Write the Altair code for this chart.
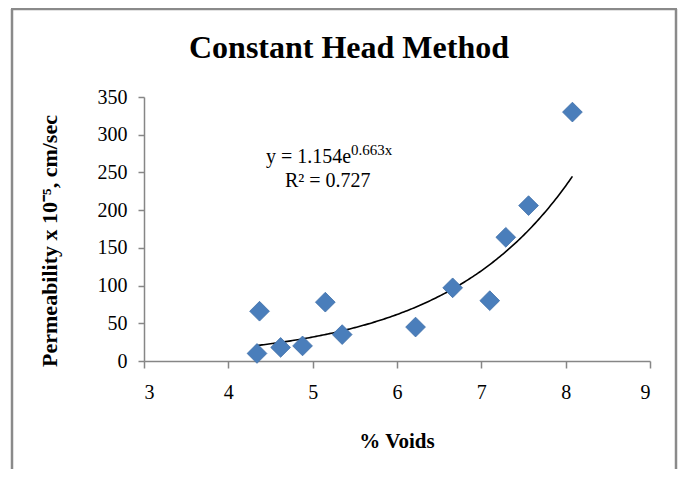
import altair as alt
import pandas as pd

# Data
voids = [4.34, 4.37, 4.62, 4.88, 5.15, 5.35, 6.22, 6.66, 7.10, 7.29, 7.56, 8.08]
permeability = [10, 66, 18, 20, 78, 35, 45, 97, 80, 164, 206, 330]

# Trendline equation printed on the chart: y = 1.154 e^(0.663 x)
fit_a = 1.154
fit_b = 0.663

x_ticks = [3, 4, 5, 6, 7, 8, 9]
y_ticks = [0, 50, 100, 150, 200, 250, 300, 350]

title_text = "Constant Head Method"
x_title = "% Voids"
y_title = "Permeability x 10\u207b\u2075, cm/sec"
eq_main = "y = 1.154e"
eq_sup = "0.663x"
r2_text = "R\u00b2 = 0.727"

FONT = "Liberation Serif"
W, H = 506, 264

df = pd.DataFrame({"voids": voids, "perm": permeability})
one = pd.DataFrame({"k": [0]})

x_scale = alt.Scale(domain=[3, 9], nice=False)
y_scale = alt.Scale(domain=[0, 350], nice=False)
x_axis = alt.Axis(values=x_ticks, title=None, tickSize=7, labelPadding=14, format="d", grid=False)
y_axis = alt.Axis(values=y_ticks, title=None, tickSize=6, labelPadding=11, format="d", grid=False)

points = alt.Chart(df).mark_point(
    shape="diamond", filled=True, size=390, color="#4a7ebb", opacity=1,
    stroke="#3f6fa8", strokeWidth=0.8
).encode(
    x=alt.X("voids:Q", scale=x_scale, axis=x_axis),
    y=alt.Y("perm:Q", scale=y_scale, axis=y_axis),
)

trend = alt.Chart(alt.sequence(min(voids), max(voids) + 0.001, 0.02, as_="voids")).transform_calculate(
    perm=f"{fit_a} * exp({fit_b} * datum.voids)"
).mark_line(color="black", strokeWidth=1.6).encode(
    x=alt.X("voids:Q", scale=x_scale, axis=x_axis),
    y=alt.Y("perm:Q", scale=y_scale, axis=y_axis),
)

def txt(s, x, y, size, bold=False, align="left", angle=0, baseline="alphabetic"):
    kw = dict(text=s, font=FONT, fontSize=size, align=align, baseline=baseline, color="black")
    if bold:
        kw["fontWeight"] = "bold"
    if angle:
        kw["angle"] = angle
    return alt.Chart(one).mark_text(**kw).encode(x=alt.value(x), y=alt.value(y))

BORDER = "#8a8a8a"
left_b = alt.Chart(one).mark_rule(color=BORDER, strokeWidth=2.5).encode(
    x=alt.value(-132), y=alt.value(-88), y2=alt.value(380))
right_b = alt.Chart(one).mark_rule(color=BORDER, strokeWidth=2.5).encode(
    x=alt.value(532), y=alt.value(-88), y2=alt.value(380))
top_b = alt.Chart(one).mark_rule(color=BORDER, strokeWidth=2.5).encode(
    x=alt.value(-133), x2=alt.value(533), y=alt.value(-88))

chart = alt.layer(
    left_b, right_b, top_b,
    trend, points,
    txt(title_text, 205, -39, 32, bold=True, align="center"),
    txt(x_title, 253, 351, 21, bold=True, align="center"),
    txt(y_title, -94, 144, 22, bold=True, align="center", angle=270, baseline="middle"),
    txt(eq_main, 122, 66, 20),
    txt(eq_sup, 207, 58, 15),
    txt(r2_text, 141, 90, 20),
).properties(
    width=W, height=H,
    background="white",
    autosize=alt.AutoSizeParams(type="none"),
    padding={"left": 136, "top": 89, "right": 28, "bottom": 108},
).configure_view(stroke=None).configure_axis(
    grid=False, domainColor="#868686", tickColor="#868686", domainWidth=1.5, tickWidth=1.5,
    labelFont=FONT, labelFontSize=20, labelColor="black",
)

chart.save("out.html", embed_options={"renderer": "svg", "actions": False})
